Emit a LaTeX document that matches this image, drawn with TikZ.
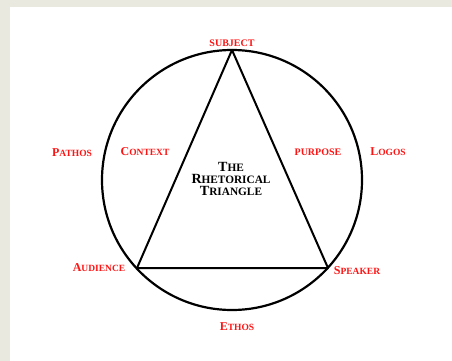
\documentclass[tikz,border=0pt]{standalone}
\usepackage{fontspec}
\setmainfont{Liberation Serif}
\usepackage{tikz}
\usetikzlibrary{positioning}

\definecolor{rhetred}{RGB}{255,20,20}
\definecolor{slidegray}{RGB}{233,233,224}
% small caps by hand: big first letter, smaller capitals after it
\newcommand{\bigsc}[2]{{\fontsize{12}{14}\selectfont #1}{\fontsize{9.5}{11}\selectfont #2}}
\newcommand{\allsc}[1]{{\fontsize{10}{12}\selectfont #1}}
\newcommand{\ttlsc}[2]{{\fontsize{14}{17}\selectfont #1}{\fontsize{11.3}{17}\selectfont #2}}

\begin{document}
\begin{tikzpicture}[x=1pt,y=-1pt,
  lbl/.style={text=rhetred, font=\bfseries, inner sep=0pt},
  ttl/.style={text=black, font=\bfseries, inner sep=0pt, align=center}]
\useasboundingbox (0,0) rectangle (452,361);
\fill [slidegray] (0,0) rectangle (452,361);
\fill [white] (10,7) rectangle (452,361);
% circle and triangle
\node [circle, draw=black, line width=2.2pt, minimum size=260pt, inner sep=0pt] (ring) at (232,180) {};
\coordinate (subj) at (232,50);
\coordinate (aud) at (137,268);
\coordinate (spk) at (328,268);
\draw [black, line width=2pt, line join=round] (subj) -- (aud) -- (spk) -- cycle;
% labels
\node [lbl, above=3pt of subj] (subjtxt) {\allsc{SUBJECT}};
\node [lbl] (pathos) at (72,153) {\bigsc{P}{ATHOS}};
\node [lbl] (context) at (145,152) {\bigsc{C}{ONTEXT}};
\node [lbl] (purpose) at (318,152) {\allsc{PURPOSE}};
\node [lbl] (logos) at (388,152) {\bigsc{L}{OGOS}};
\node [lbl] (audtxt) at (99,268) {\bigsc{A}{UDIENCE}};
\node [lbl] (spktxt) at (357,271) {\bigsc{S}{PEAKER}};
\node [lbl] (ethos) at (237,327) {\bigsc{E}{THOS}};
\node [ttl] (title) at (231,179) {%
  \ttlsc{T}{HE}\\ \ttlsc{R}{HETORICAL}\\ \ttlsc{T}{RIANGLE}};
\end{tikzpicture}
\end{document}
